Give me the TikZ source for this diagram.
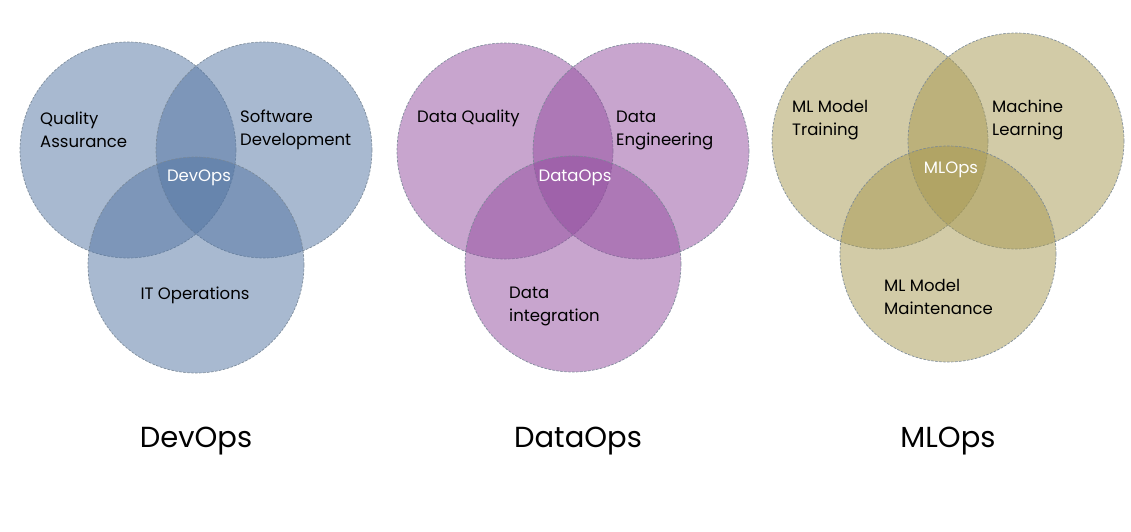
\documentclass[tikz,border=0pt]{standalone}
\usepackage{fontspec}
\setmainfont{Poppins}
\definecolor{cblue}{RGB}{83,117,163}
\definecolor{cpurp}{RGB}{147,77,159}
\definecolor{colive}{RGB}{167,153,81}
\definecolor{edge}{RGB}{120,135,150}
\begin{document}
\begin{tikzpicture}[x=1pt,y=-1pt,
  venn/.style={fill=#1,fill opacity=0.5,draw=edge,draw opacity=0.9,dashed,dash pattern=on 2.5pt off 1.5pt,line width=0.7pt},
  lab/.style={align=left,anchor=west,font=\fontsize{16.5}{23}\selectfont,text=black,inner sep=0pt},
  mid/.style={font=\fontsize{16.5}{20}\selectfont,text=white,inner sep=0pt},
  ttl/.style={font=\fontsize{29}{34}\selectfont,text=black,inner sep=0pt}]
\useasboundingbox (0,0) rectangle (1131,532);
\fill[white] (0,0) rectangle (1131,532);
% DevOps
\draw[venn=cblue] (128,150) circle (108);
\draw[venn=cblue] (264,150) circle (108);
\draw[venn=cblue] (196,265) circle (108);
\node[lab] (qa) at (40,130) {Quality\\Assurance};
\node[lab] (sd) at (240,130) {Software\\Development};
\node[mid] (dv) at (199,178) {DevOps};
\node[mid,text=black] (it) at (195,295) {IT Operations};
\node[ttl] (t1) at (196,441) {DevOps};
% DataOps
\draw[venn=cpurp] (505,151) circle (108);
\draw[venn=cpurp] (641,151) circle (108);
\draw[venn=cpurp] (573,264) circle (108);
\node[lab] (dq) at (417,118) {Data Quality};
\node[lab] (de) at (616,130) {Data\\Engineering};
\node[mid] (dop) at (575,178) {DataOps};
\node[lab] (di) at (509,306) {Data\\integration};
\node[ttl] (t2) at (578,441) {DataOps};
% MLOps
\draw[venn=colive] (880,141) circle (108);
\draw[venn=colive] (1016,141) circle (108);
\draw[venn=colive] (948,254) circle (108);
\node[lab] (mt) at (792,120) {ML Model\\Training};
\node[lab] (ml) at (992,120) {Machine\\Learning};
\node[mid] (mo) at (951,170) {MLOps};
\node[lab] (mm) at (884,297) {ML Model\\Maintenance};
\node[ttl] (t3) at (948,441) {MLOps};
\end{tikzpicture}
\end{document}
